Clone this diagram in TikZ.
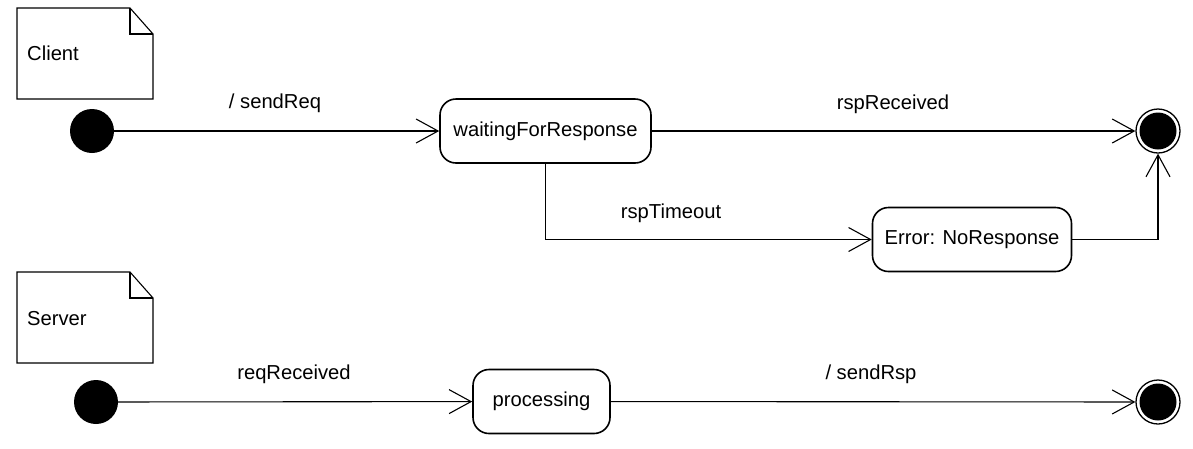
\documentclass[tikz,border=0pt]{standalone}
\usepackage{fontspec}
\setmainfont{Liberation Sans}
\usetikzlibrary{arrows.meta}
\begin{document}
\begin{tikzpicture}[x=1pt,y=-1pt,
  every node/.style={font=\fontsize{20.2}{24}\selectfont, inner sep=0pt},
  state/.style={draw, line width=1.6pt, rounded corners=16pt, align=center},
  initial/.style={circle, fill=black, minimum size=44pt},
  final/.style={circle, draw, line width=1.3pt, minimum size=44pt,
     path picture={\fill[black] (path picture bounding box.center) circle (18.5pt);}},
  arr/.style={line width=1.1pt, -{Straight Barb[length=22pt,width=24pt,line width=1.1pt]}},
  notebox/.style={line width=1.1pt, fill=white},
  lbl/.style={anchor=center}
]
\useasboundingbox (0,0) rectangle (1193,448);
% notes
\draw[notebox] (17,8) -- (130,8) -- (153,34) -- (153,99) -- (17,99) -- cycle;
\draw[line width=1.1pt] (130,8) -- (130,34) -- (153,34);
\node[anchor=west] (nclient) at (27,53) {Client};
\draw[notebox] (17,272) -- (130,272) -- (153,298) -- (153,363) -- (17,363) -- cycle;
\draw[line width=1.1pt] (130,272) -- (130,298) -- (153,298);
\node[anchor=west] (nserver) at (27,319) {Server};
% client
\node[initial] (i1) at (92,131) {};
\node[state, minimum width=211pt, minimum height=64pt] (w) at (545.5,131) {waitingForResponse};
\node[final] (f1) at (1158,131) {};
\node[state, minimum width=199pt, minimum height=64pt] (e) at (972,239.5) {Error: NoResponse};
\draw[arr] (i1) -- (w);
\draw[arr] (w) -- (f1);
\draw[arr] (w.south) |- (e.west);
\draw[arr] (e.east) -| (f1.south);
\node[lbl] (l1) at (275,103) {/ sendReq};
\node[lbl] (l2) at (893,104) {rspReceived};
\node[lbl] (l3) at (671,213) {rspTimeout};
% server
\node[initial] (i2) at (96,402) {};
\node[state, minimum width=137pt, minimum height=64pt] (p) at (541.5,401.5) {processing};
\node[final] (f2) at (1158,402) {};
\draw[arr] (i2) -- (p);
\draw[arr] (p) -- (f2);
\node[lbl] (l4) at (294,374) {reqReceived};
\node[lbl] (l5) at (871,374) {/ sendRsp};
\end{tikzpicture}
\end{document}
